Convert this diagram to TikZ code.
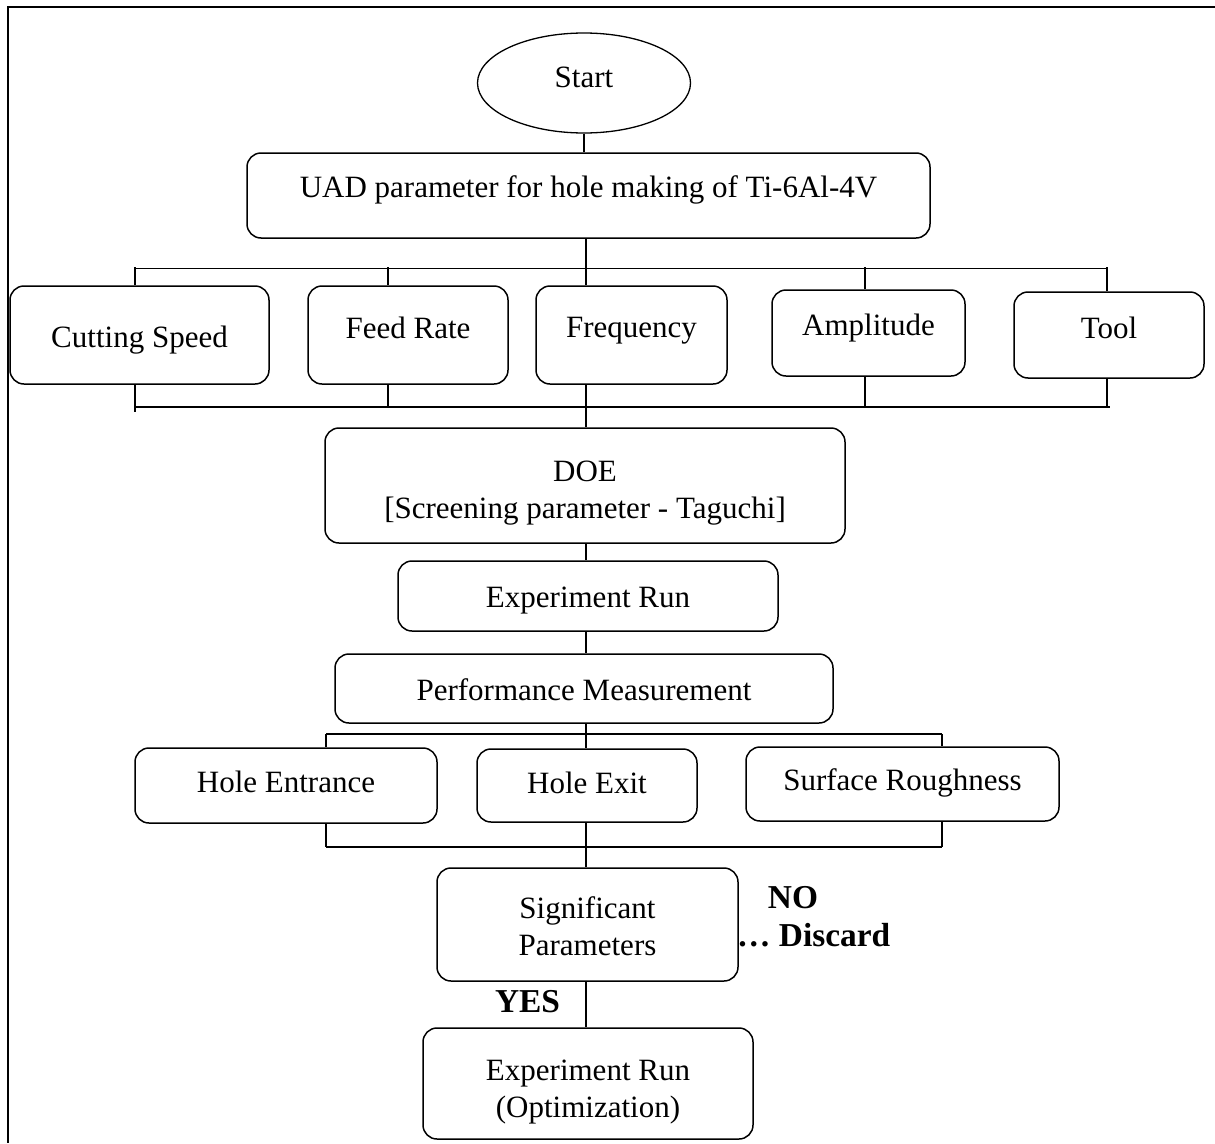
\documentclass[tikz,border=0pt]{standalone}
\usepackage{fontspec}
\setmainfont{Liberation Serif}
\usetikzlibrary{shapes.geometric}
\begin{document}
\begin{tikzpicture}[x=1pt,y=-1pt,
  box/.style={draw,line width=1.5pt,rounded corners=14pt,inner sep=0pt,align=center,font=\fontsize{31}{37}\selectfont},
  oneline/.style={text height=21pt,text depth=7pt},
  conn/.style={line width=1.4pt},
  lab/.style={inner sep=0pt,font=\fontsize{33.4}{38}\selectfont\bfseries}]
\useasboundingbox (0,0) rectangle (1215,1143);
% frame
\draw[line width=2.5pt] (1215,7) -- (8,7) -- (8,1143);

% nodes
\node[draw,ellipse,line width=1.3pt,inner sep=0pt,minimum width=213pt,minimum height=100pt,font=\fontsize{31}{37}\selectfont,oneline] (start) at (584,83) {\raisebox{3pt}{Start}};
\node[box,oneline,minimum width=683pt,minimum height=85pt] (uad) at (588.5,195.5) {\raisebox{5pt}{UAD parameter for hole making of Ti-6Al-4V}};

\node[box,oneline,minimum width=259pt,minimum height=98pt] (cs) at (139.5,335) {\raisebox{-5pt}{Cutting Speed}};
\node[box,oneline,minimum width=200pt,minimum height=98pt] (fr) at (408,335) {\raisebox{4pt}{Feed Rate}};
\node[box,oneline,minimum width=191pt,minimum height=98pt] (fq) at (631.5,335) {\raisebox{5pt}{Frequency}};
\node[box,oneline,minimum width=193pt,minimum height=86pt] (am) at (868.5,333) {\raisebox{5pt}{Amplitude}};
\node[box,oneline,minimum width=190pt,minimum height=86pt] (tl) at (1109,335) {\raisebox{4pt}{Tool}};

\node[box,minimum width=520pt,minimum height=115pt] (doe) at (585,485.5) {\rule{0pt}{35.5pt}DOE\\{}[Screening parameter - Taguchi]};
\node[box,oneline,minimum width=380pt,minimum height=70pt] (er) at (588,596) {\raisebox{-4pt}{Experiment Run}};
\node[box,oneline,minimum width=498pt,minimum height=69pt] (pm) at (584,688.5) {\raisebox{-5pt}{Performance Measurement}};

\node[box,oneline,minimum width=302pt,minimum height=75pt] (he) at (286,785.5) {Hole Entrance};
\node[box,oneline,minimum width=220pt,minimum height=73pt] (hx) at (587,785.5) {\raisebox{-1pt}{Hole Exit}};
\node[box,oneline,minimum width=313pt,minimum height=74pt] (sr) at (902.5,784) {\raisebox{1pt}{Surface Roughness}};

\node[box,minimum width=301pt,minimum height=113pt] (sp) at (587.5,924.5) {\rule{0pt}{26pt}Significant\\Parameters};
\node[box,minimum width=330pt,minimum height=111pt] (eo) at (588,1083.5) {\rule{0pt}{37pt}Experiment Run\\(Optimization)};

\node[lab] (no) at (793,898) {NO};
\node[lab,anchor=west] (disc) at (737,935) {… Discard};
\node[lab] (yes) at (527.5,1002) {YES};

% bus coordinates
\coordinate (t1) at (135,267);
\coordinate (t2) at (388,267);
\coordinate (t3) at (586,267);
\coordinate (t4) at (865,267);
\coordinate (t5) at (1107,267);
\coordinate (b1) at (135,407);
\coordinate (b2) at (388,407);
\coordinate (b3) at (586,407);
\coordinate (b4) at (865,407);
\coordinate (b5) at (1107,407);
\coordinate (b6) at (1110,407);
\coordinate (b0) at (135,412);
\coordinate (p1) at (326,734);
\coordinate (p2) at (586,734);
\coordinate (p3) at (942,734);
\coordinate (q1) at (326,847);
\coordinate (q2) at (586,847);
\coordinate (q3) at (942,847);

% connectors
\draw[conn] (start.south) -- (start.south |- uad.north);
\draw[conn] (uad.south -| t3) -- (t3);
\draw[conn] ([yshift=-1.5pt]t1) -- ([yshift=-1.5pt]t5);
\draw[conn] (t1) -- (t1 |- cs.north);
\draw[conn] (t2) -- (t2 |- fr.north);
\draw[conn] (t3) -- (t3 |- fq.north);
\draw[conn] (t4) -- (t4 |- am.north);
\draw[conn] (t5) -- (t5 |- tl.north);
\draw[conn] (b1) -- (b6);
\draw[conn] (cs.south -| b1) -- (b0);
\draw[conn] (fr.south -| b2) -- (b2);
\draw[conn] (fq.south -| b3) -- (b3);
\draw[conn] (am.south -| b4) -- (b4);
\draw[conn] (tl.south -| b5) -- (b5);
\draw[conn] (b3) -- (b3 |- doe.north);
\draw[conn] (doe.south -| b3) -- (er.north -| b3);
\draw[conn] (er.south -| b3) -- (pm.north -| b3);
\draw[conn] (pm.south -| p2) -- (hx.north -| p2);
\draw[conn] (p1) -- (p3);
\draw[conn] (p1) -- (p1 |- he.north);
\draw[conn] (p3) -- (p3 |- sr.north);
\draw[conn] (q1) -- (q3);
\draw[conn] (he.south -| q1) -- (q1);
\draw[conn] (sr.south -| q3) -- (q3);
\draw[conn] (hx.south -| q2) -- (sp.north -| q2);
\draw[conn] (sp.south -| q2) -- (eo.north -| q2);
\end{tikzpicture}
\end{document}
